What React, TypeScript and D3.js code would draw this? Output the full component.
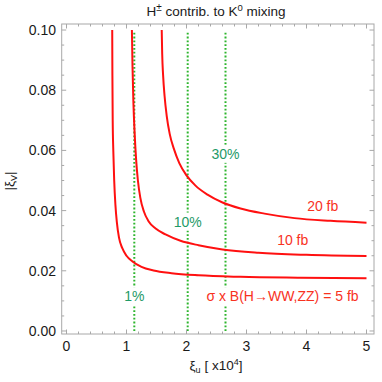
import { useEffect, useRef } from 'react'
import * as d3 from 'd3'

// points: [xi_u (x10^4), |xi_V|]
const CURVE_5FB: [number, number][] = [
  [0.762, 0.1], [0.765, 0.085], [0.77, 0.07], [0.78, 0.06], [0.795, 0.05],
  [0.815, 0.042], [0.84, 0.036], [0.875, 0.031], [0.93, 0.0275], [1.0, 0.025],
  [1.1, 0.0231], [1.25, 0.0213], [1.45, 0.0201], [1.75, 0.0192], [2.2, 0.0185],
  [2.9, 0.018], [3.9, 0.0177], [5.0, 0.0175],
]
const CURVE_10FB: [number, number][] = [
  [1.09, 0.1], [1.1, 0.088], [1.115, 0.076], [1.135, 0.066], [1.16, 0.057],
  [1.19, 0.05], [1.23, 0.0443], [1.29, 0.0397], [1.37, 0.0364], [1.48, 0.0341],
  [1.65, 0.0321], [1.9, 0.03], [2.2, 0.0285], [2.6, 0.0271], [3.2, 0.026],
  [4.0, 0.0253], [5.0, 0.0249],
]
const CURVE_20FB: [number, number][] = [
  [1.587, 0.1], [1.595, 0.092], [1.61, 0.085], [1.635, 0.078], [1.67, 0.0715],
  [1.72, 0.0655], [1.79, 0.0605], [1.88, 0.0558], [2.0, 0.0517], [2.15, 0.0483],
  [2.35, 0.0453], [2.6, 0.0427], [2.9, 0.0407], [3.3, 0.039], [3.8, 0.0375],
  [4.4, 0.0366], [5.0, 0.036],
]
const CURVES = [CURVE_5FB, CURVE_10FB, CURVE_20FB]

// vertical K0-mixing contours
const PCT_X = [1.13, 2.02, 2.65]
const PCT_LABELS = ['1%', '10%', '30%']
const PCT_LABEL_Y = [0.0099, 0.0347, 0.0572]

const FB_LABELS = ['σ x B(H→WW,ZZ) = 5 fb', '10 fb', '20 fb']
const FB_LABEL_POS: [number, number][] = [[3.6, 0.0099], [3.77, 0.0285], [4.27, 0.0399]]

const X_TICKS = [0, 1, 2, 3, 4, 5]
const Y_TICKS = [0, 0.02, 0.04, 0.06, 0.08, 0.1]

const W = 382
const H = 382
const FONT = '"Liberation Sans", Arial, Helvetica, sans-serif'

export default function App() {
  const svgRef = useRef<SVGSVGElement>(null)

  useEffect(() => {
    if (!svgRef.current) return
    const svg = d3.select(svgRef.current)
    svg.selectAll('*').remove()

    const left = 61.7, right = 374, top = 24, bottom = 334
    const x = d3.scaleLinear().domain([-0.08, 5.125]).range([left, right])
    const y = d3.scaleLinear().domain([-0.001, 0.102]).range([bottom, top])

    const g = svg.append('g').attr('font-family', FONT)

    // green dotted lines
    PCT_X.forEach((v) => {
      g.append('line')
        .attr('x1', x(v)).attr('x2', x(v))
        .attr('y1', y(0)).attr('y2', y(0.0995))
        .attr('stroke', '#2db52d')
        .attr('stroke-width', 2)
        .attr('stroke-dasharray', '1.8,2')
    })

    // red curves
    const line = d3.line<[number, number]>()
      .x((d) => x(d[0]))
      .y((d) => y(d[1]))
      .curve(d3.curveMonotoneX)
    CURVES.forEach((c) => {
      g.append('path')
        .attr('d', line(c))
        .attr('fill', 'none')
        .attr('stroke', '#ff1010')
        .attr('stroke-width', 2)
    })

    // labels with white background
    const label = (tx: number, ty: number, s: string, color: string) => {
      const bg = g.append('rect').attr('fill', 'white')
      const t = g.append('text')
        .attr('x', tx).attr('y', ty)
        .attr('text-anchor', 'middle')
        .attr('font-size', 14)
        .attr('fill', color)
        .text(s)
      const b = (t.node() as SVGTextElement).getBBox()
      bg.attr('x', b.x - 1).attr('y', b.y - 1).attr('width', b.width + 2).attr('height', b.height + 2)
    }
    PCT_X.forEach((v, i) => label(x(v), y(PCT_LABEL_Y[i]), PCT_LABELS[i], '#1f9a68'))
    FB_LABELS.forEach((s, i) => label(x(FB_LABEL_POS[i][0]), y(FB_LABEL_POS[i][1]), s, '#f8321e'))

    // frame
    g.append('rect')
      .attr('x', left).attr('y', top)
      .attr('width', right - left).attr('height', bottom - top)
      .attr('fill', 'none')
      .attr('stroke', '#a8a8a8')
      .attr('stroke-width', 1)

    const tickColor = '#a8a8a8'
    const xMinor = d3.range(0, 5.01, 0.2)
    xMinor.forEach((v) => {
      const major = Math.abs(v - Math.round(v)) < 1e-6
      const len = major ? 4.5 : 2.5
      g.append('line').attr('x1', x(v)).attr('x2', x(v)).attr('y1', bottom).attr('y2', bottom - len).attr('stroke', tickColor)
      g.append('line').attr('x1', x(v)).attr('x2', x(v)).attr('y1', top).attr('y2', top + len).attr('stroke', tickColor)
    })
    const yMinor = d3.range(0, 0.1001, 0.005)
    yMinor.forEach((v) => {
      const major = Math.abs(v / 0.02 - Math.round(v / 0.02)) < 1e-6
      const len = major ? 4.5 : 2.5
      g.append('line').attr('x1', left).attr('x2', left + len).attr('y1', y(v)).attr('y2', y(v)).attr('stroke', tickColor)
      g.append('line').attr('x1', right).attr('x2', right - len).attr('y1', y(v)).attr('y2', y(v)).attr('stroke', tickColor)
    })

    // tick labels
    X_TICKS.forEach((v) => {
      g.append('text')
        .attr('x', x(v)).attr('y', 351)
        .attr('text-anchor', 'middle')
        .attr('font-size', 14)
        .attr('fill', '#1a1a1a')
        .text(d3.format('d')(v))
    })
    Y_TICKS.forEach((v) => {
      g.append('text')
        .attr('x', 56).attr('y', y(v) + 5)
        .attr('text-anchor', 'end')
        .attr('font-size', 14)
        .attr('fill', '#1a1a1a')
        .text(d3.format('.2f')(v))
    })

    // title
    const title = g.append('text')
      .attr('x', 216).attr('y', 16)
      .attr('text-anchor', 'middle')
      .attr('font-size', 13.5)
      .attr('fill', '#1a1a1a')
    title.append('tspan').text('H')
    title.append('tspan').attr('font-size', 10).attr('dy', -5).text('±')
    title.append('tspan').attr('dy', 5).text(' contrib. to K')
    title.append('tspan').attr('font-size', 9.5).attr('dy', -5).text('0')
    title.append('tspan').attr('dy', 5).text(' mixing')

    // x axis label
    const xl = g.append('text')
      .attr('x', 216).attr('y', 370)
      .attr('text-anchor', 'middle')
      .attr('font-size', 13.5)
      .attr('fill', '#1a1a1a')
    xl.append('tspan').text('ξ')
    xl.append('tspan').attr('font-size', 9).attr('dy', 3).text('u')
    xl.append('tspan').attr('dy', -3).text(' [ x10')
    xl.append('tspan').attr('font-size', 9).attr('dy', -5).text('4')
    xl.append('tspan').attr('dy', 5).text(']')

    // y axis label
    const yl = g.append('text')
      .attr('transform', 'translate(14,181) rotate(-90)')
      .attr('text-anchor', 'middle')
      .attr('font-size', 13.5)
      .attr('fill', '#1a1a1a')
    yl.append('tspan').text('|ξ')
    yl.append('tspan').attr('font-size', 9).attr('dy', 3).text('V')
    yl.append('tspan').attr('dy', -3).text('|')
  }, [])

  return (
    <div style={{ position: 'absolute', left: 0, top: 0 }}>
      <svg ref={svgRef} width={W} height={H} style={{ display: 'block', background: 'white' }} />
    </div>
  )
}
